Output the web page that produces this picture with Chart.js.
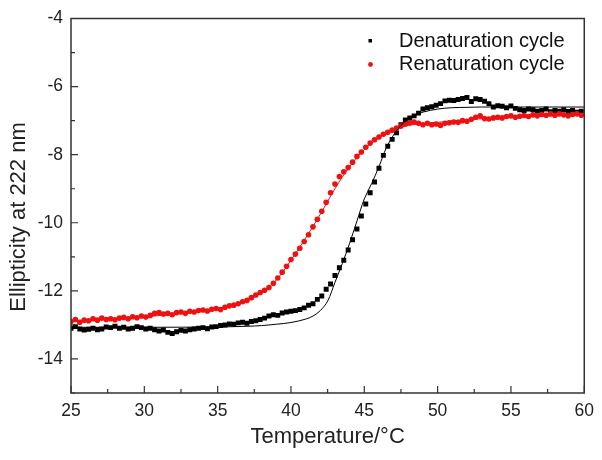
<!DOCTYPE html>
<html>
<head>
<meta charset="utf-8">
<script src="https://cdn.jsdelivr.net/npm/chart.js@4.4.1/dist/chart.umd.min.js"></script>
<style>
  html, body { margin: 0; padding: 0; background: #ffffff; }
  #wrap { width: 602px; height: 460px; }
</style>
</head>
<body>
<div id="wrap"><canvas id="c" width="602" height="460"></canvas></div>
<script>
// ---- data ----
const temps = [25.0,25.3,25.6,25.9,26.2,26.5,26.8,27.1,27.4,27.7,28.0,28.3,28.6,28.9,29.2,29.5,29.8,30.1,30.4,30.7,
  31.0,31.3,31.6,31.9,32.2,32.5,32.8,33.1,33.4,33.7,34.0,34.3,34.6,34.9,35.2,35.5,35.8,36.1,36.4,36.7,
  37.0,37.3,37.6,37.9,38.2,38.5,38.8,39.1,39.4,39.7,40.0,40.3,40.6,40.9,41.2,41.5,41.8,42.1,42.4,42.7,
  43.0,43.3,43.6,43.9,44.2,44.5,44.8,45.1,45.4,45.7,46.0,46.3,46.6,46.9,47.2,47.5,47.8,48.1,48.4,48.7,
  49.0,49.3,49.6,49.9,50.2,50.5,50.8,51.1,51.4,51.7,52.0,52.3,52.6,52.9,53.2,53.5,53.8,54.1,54.4,54.7,
  55.0,55.3,55.6,55.9,56.2,56.5,56.8,57.1,57.4,57.7,58.0,58.3,58.6,58.9,59.2,59.5,59.8];

const denaturation = [-13.10,-13.05,-13.12,-13.15,-13.13,-13.10,-13.14,-13.12,-13.06,-13.08,-13.04,-13.10,-13.07,-13.12,-13.10,-13.05,-13.08,-13.12,-13.10,-13.14,
  -13.18,-13.15,-13.22,-13.25,-13.20,-13.16,-13.18,-13.14,-13.12,-13.10,-13.08,-13.11,-13.06,-13.05,-13.02,-13.00,-12.97,-12.98,-12.94,-12.92,
  -12.95,-12.90,-12.88,-12.84,-12.80,-12.74,-12.70,-12.72,-12.65,-12.62,-12.60,-12.58,-12.55,-12.50,-12.42,-12.38,-12.25,-12.15,-11.95,-11.80,
  -11.55,-11.32,-11.10,-10.80,-10.50,-10.18,-9.80,-9.45,-9.12,-8.80,-8.40,-8.02,-7.75,-7.55,-7.36,-7.12,-6.98,-6.92,-6.86,-6.78,
  -6.66,-6.62,-6.59,-6.55,-6.50,-6.42,-6.40,-6.41,-6.38,-6.35,-6.32,-6.44,-6.36,-6.38,-6.43,-6.50,-6.60,-6.56,-6.58,-6.62,
  -6.57,-6.64,-6.68,-6.70,-6.66,-6.68,-6.72,-6.70,-6.66,-6.74,-6.70,-6.72,-6.68,-6.73,-6.70,-6.75,-6.72];

const renaturation = [-12.90,-12.84,-12.92,-12.86,-12.88,-12.82,-12.86,-12.80,-12.84,-12.82,-12.85,-12.80,-12.78,-12.82,-12.76,-12.79,-12.74,-12.77,-12.72,-12.66,
  -12.64,-12.68,-12.66,-12.70,-12.64,-12.62,-12.66,-12.60,-12.62,-12.58,-12.56,-12.59,-12.54,-12.52,-12.55,-12.48,-12.44,-12.42,-12.38,-12.32,
  -12.28,-12.20,-12.12,-12.05,-11.98,-11.90,-11.78,-11.62,-11.45,-11.28,-11.08,-10.92,-10.75,-10.55,-10.35,-10.12,-9.90,-9.66,-9.40,-9.12,
  -8.86,-8.64,-8.50,-8.38,-8.22,-8.05,-7.92,-7.78,-7.66,-7.56,-7.48,-7.40,-7.34,-7.28,-7.22,-7.16,-7.10,-7.06,-7.04,-7.08,
  -7.12,-7.08,-7.12,-7.10,-7.14,-7.08,-7.06,-7.04,-7.05,-7.00,-7.02,-6.96,-6.90,-6.86,-6.94,-6.95,-6.92,-6.90,-6.92,-6.88,
  -6.86,-6.90,-6.87,-6.85,-6.88,-6.83,-6.86,-6.82,-6.84,-6.80,-6.84,-6.80,-6.83,-6.86,-6.82,-6.80,-6.84];

const denatFitT = [25,30,35,37,38,39,40,41,41.5,42,42.5,43,43.5,44,44.5,45,45.5,46,46.5,47,47.5,48,48.5,49,50,51,52,53,55,60];
const denatFitV = [-13.07,-13.07,-13.06,-13.04,-13.02,-12.98,-12.93,-12.83,-12.74,-12.58,-12.30,-11.75,-11.20,-10.60,-9.95,-9.30,-8.85,-8.35,-7.80,-7.42,-7.14,-6.96,-6.84,-6.75,-6.66,-6.62,-6.61,-6.60,-6.60,-6.60];

const renatFitT = [25,30,33,35,36,37,38,39,40,41,42,43,44,45,46,47,48,50,52,55,60];
const renatFitV = [-12.88,-12.76,-12.64,-12.52,-12.42,-12.28,-12.05,-11.68,-11.10,-10.45,-9.75,-9.00,-8.35,-7.85,-7.50,-7.28,-7.14,-7.05,-6.97,-6.90,-6.83];

const xTicks = [25,30,35,40,45,50,55,60];
const xMinorTicks = [27.5,32.5,37.5,42.5,47.5,52.5,57.5];
const yTicks = [-4,-6,-8,-10,-12,-14];
const yMinorTicks = [-5,-7,-9,-11,-13,-15];

const seriesNames = ['Denaturation cycle', 'Renaturation cycle'];
const xTitle = 'Temperature/\u00B0C';
const yTitle = 'Ellipticity at 222 nm';

// ---- build ----
const pts = (xs, ys) => xs.map((x, i) => ({x: x, y: ys[i]}));
const FONT = "'Liberation Sans', Arial, sans-serif";
const AXIS = '#333333';

const boxAndTicks = {
  id: 'boxAndTicks',
  afterDraw(chart) {
    const {ctx, chartArea: a, scales: {x, y}} = chart;
    ctx.save();
    ctx.strokeStyle = AXIS;
    ctx.lineWidth = 1.5;
    ctx.strokeRect(a.left, a.top, a.right - a.left, a.bottom - a.top);
    ctx.lineWidth = 1.2;
    ctx.beginPath();
    const tx = (v, len) => { const p = x.getPixelForValue(v); ctx.moveTo(p, a.bottom); ctx.lineTo(p, a.bottom - len); };
    const ty = (v, len) => { const p = y.getPixelForValue(v); ctx.moveTo(a.left, p); ctx.lineTo(a.left + len, p); };
    xTicks.forEach(v => tx(v, 7));
    xMinorTicks.forEach(v => tx(v, 4));
    yTicks.forEach(v => ty(v, 7));
    yMinorTicks.forEach(v => ty(v, 4));
    ctx.stroke();
    // y axis title
    ctx.save();
    ctx.font = '22px ' + FONT;
    ctx.fillStyle = '#222';
    ctx.textAlign = 'center';
    ctx.textBaseline = 'middle';
    ctx.translate(19, 217);
    ctx.rotate(-Math.PI / 2);
    ctx.fillText(yTitle, 0, 0);
    ctx.restore();
    // legend
    ctx.font = '20px ' + FONT;
    ctx.textBaseline = 'middle';
    ctx.textAlign = 'left';
    ctx.fillStyle = '#000';
    ctx.fillRect(368.5, 39, 3.5, 3.5);
    ctx.fillStyle = '#111';
    ctx.fillText(seriesNames[0], 399, 41);
    ctx.fillStyle = '#ee1111';
    ctx.beginPath(); ctx.arc(370.5, 64.5, 2.4, 0, Math.PI * 2); ctx.fill();
    ctx.fillStyle = '#111';
    ctx.fillText(seriesNames[1], 399, 64);
    ctx.restore();
  }
};

new Chart(document.getElementById('c'), {
  type: 'scatter',
  data: {
    datasets: [
      { label: 'Denaturation fit', data: pts(denatFitT, denatFitV), showLine: true, borderColor: '#000', borderWidth: 1, pointRadius: 0, tension: 0.35, order: 1 },
      { label: 'Renaturation fit', data: pts(renatFitT, renatFitV), showLine: true, borderColor: '#ee1111', borderWidth: 1, pointRadius: 0, tension: 0.35, order: 3 },
      { label: seriesNames[0], data: pts(temps, denaturation), showLine: false, pointStyle: 'rect', pointRadius: 3.5, pointBorderWidth: 0, backgroundColor: '#000', borderColor: '#000', order: 4 },
      { label: seriesNames[1], data: pts(temps, renaturation), showLine: false, pointStyle: 'circle', pointRadius: 2.8, pointBorderWidth: 0, backgroundColor: '#ee1111', borderColor: '#ee1111', order: 2 }
    ]
  },
  options: {
    responsive: false,
    animation: false,
    devicePixelRatio: 1,
    layout: { padding: { top: 13, right: 16, left: 0, bottom: 0 } },
    plugins: { legend: { display: false }, tooltip: { enabled: false } },
    scales: {
      x: {
        type: 'linear', min: 25, max: 60,
        afterBuildTicks: s => { s.ticks = xTicks.map(v => ({value: v})); },
        afterFit: s => { s.height = 67; },
        grid: { display: false, drawTicks: false },
        border: { display: false },
        ticks: { padding: 8, color: '#222', font: { family: FONT, size: 17.5 } },
        title: { display: true, text: xTitle, color: '#222', font: { family: FONT, size: 22 }, padding: { top: 0, bottom: 10 } }
      },
      y: {
        type: 'linear', min: -15, max: -4,
        afterBuildTicks: s => { s.ticks = yTicks.map(v => ({value: v})); },
        afterFit: s => { s.width = 71; },
        grid: { display: false, drawTicks: false },
        border: { display: false },
        ticks: { padding: 8, color: '#222', font: { family: FONT, size: 17.5 } },
        title: { display: false }
      }
    }
  },
  plugins: [boxAndTicks]
});
</script>
</body>
</html>
